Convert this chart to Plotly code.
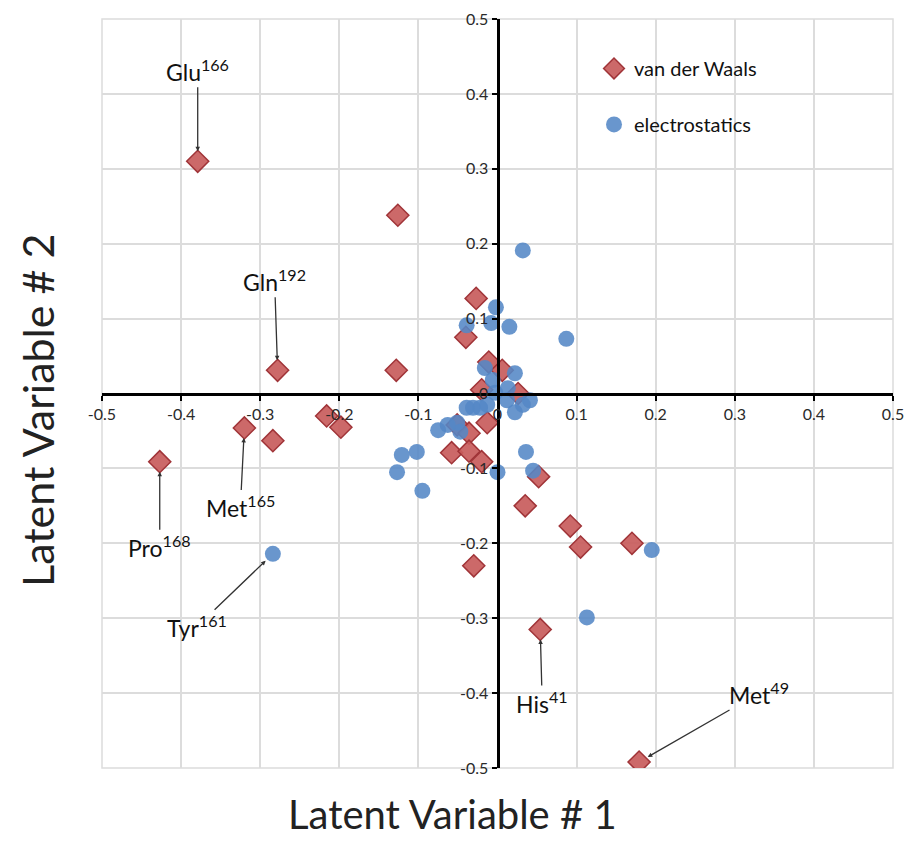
import plotly.graph_objects as go

# van der Waals (diamonds)
vdw_x = [-0.379, -0.126, -0.278, -0.128, -0.320, -0.284, -0.216, -0.198, -0.427,
         -0.027, -0.040, -0.011, 0.006, -0.020, 0.026, -0.013, -0.051, -0.036,
         -0.058, -0.036, -0.020, 0.052, 0.035, 0.092, 0.105, -0.030, 0.170,
         0.054, 0.179]
vdw_y = [0.310, 0.238, 0.031, 0.031, -0.046, -0.063, -0.030, -0.045, -0.091,
         0.127, 0.075, 0.042, 0.031, 0.005, 0.000, -0.039, -0.042, -0.053,
         -0.079, -0.077, -0.091, -0.111, -0.150, -0.177, -0.205, -0.230, -0.200,
         -0.315, -0.492]

# electrostatics (circles)
ele_x = [0.032, -0.002, -0.008, 0.015, 0.087, -0.039, -0.016, 0.022, -0.006,
         0.013, -0.003, 0.041, 0.012, 0.022, 0.032, -0.031, -0.022, -0.013,
         -0.039, -0.051, -0.075, -0.047, -0.063, -0.121, -0.102, -0.127,
         -0.095, 0.000, 0.036, 0.045, -0.284, 0.195, 0.113]
ele_y = [0.191, 0.115, 0.094, 0.089, 0.073, 0.091, 0.034, 0.027, 0.018,
         0.007, 0.001, -0.009, -0.009, -0.025, -0.015, -0.019, -0.019, -0.015,
         -0.019, -0.039, -0.049, -0.051, -0.042, -0.082, -0.078, -0.105,
         -0.130, -0.105, -0.078, -0.103, -0.214, -0.209, -0.299]

# labelled residues: text, x, y, arrow offset (px)
lab_text = ["Glu<sup>166</sup>", "Gln<sup>192</sup>", "Met<sup>165</sup>", "Pro<sup>168</sup>",
            "Tyr<sup>161</sup>", "His<sup>41</sup>", "Met<sup>49</sup>"]
lab_x = [-0.379, -0.278, -0.320, -0.427, -0.284, 0.054, 0.179]
lab_y = [0.310, 0.031, -0.046, -0.091, -0.214, -0.315, -0.492]
lab_ax = [0, -3, -4, 0, -76, 2, 120]
lab_ay = [-91, -90, 79, 85, 73, 73, -69]

ticks = [-0.5, -0.4, -0.3, -0.2, -0.1, 0, 0.1, 0.2, 0.3, 0.4, 0.5]
tick_text = ["-0.5", "-0.4", "-0.3", "-0.2", "-0.1", "0", "0.1", "0.2", "0.3", "0.4", "0.5"]

FONT = "Lato"

fig = go.Figure()
fig.add_trace(go.Scatter(
    x=vdw_x, y=vdw_y, mode="markers", name="van der Waals", legendgroup="a",
    marker=dict(symbol="diamond", size=17, color="rgba(200,92,92,0.92)",
                line=dict(color="rgb(160,52,56)", width=1.5))))
fig.add_trace(go.Scatter(
    x=ele_x, y=ele_y, mode="markers", name="electrostatics", legendgroup="b",
    marker=dict(symbol="circle", size=16, color="rgba(84,136,198,0.88)",
                line=dict(width=0))))

for t, x, y, ax, ay in zip(lab_text, lab_x, lab_y, lab_ax, lab_ay):
    fig.add_annotation(x=x, y=y, text=t, showarrow=True, ax=ax, ay=ay,
                       arrowhead=2, arrowsize=0.7, arrowwidth=1.3, arrowcolor="#333333",
                       standoff=10, font=dict(family=FONT, size=23, color="#111111"))

fig.add_annotation(xref="paper", yref="paper", x=-0.081, y=0.478, text="Latent Variable # 2",
                   textangle=-90, showarrow=False, xanchor="center", yanchor="middle",
                   font=dict(family=FONT, size=43, color="#222222"))
fig.add_annotation(xref="paper", yref="paper", x=0.4425, y=-0.0614, text="Latent Variable # 1",
                   showarrow=False, xanchor="center", yanchor="middle",
                   font=dict(family=FONT, size=40, color="#222222"))

axis_common = dict(
    range=[-0.5, 0.5], tickvals=ticks, ticktext=tick_text,
    showgrid=True, gridcolor="#dcdcdc", gridwidth=1.5, zeroline=False,
    showline=True, linecolor="black", linewidth=3,
    ticks="outside", ticklen=5, tickwidth=2, tickcolor="black",
    tickfont=dict(family=FONT, size=16, color="#2a2a2a"),
    anchor="free", position=0.5, fixedrange=True, automargin=False)

fig.update_layout(
    width=908, height=843,
    margin=dict(l=102, r=15, t=19, b=75),
    plot_bgcolor="white", paper_bgcolor="white",
    xaxis=axis_common, yaxis=axis_common,
    showlegend=True,
    legend=dict(x=0.622, y=0.960, xanchor="left", yanchor="top",
                bgcolor="rgba(0,0,0,0)", tracegroupgap=27,
                font=dict(family=FONT, size=20, color="#111111")),
    shapes=[dict(type="rect", xref="paper", yref="paper", x0=0, y0=0, x1=1, y1=1,
                 line=dict(color="#dcdcdc", width=1.5), layer="below")],
)

fig.write_html("out.html")
